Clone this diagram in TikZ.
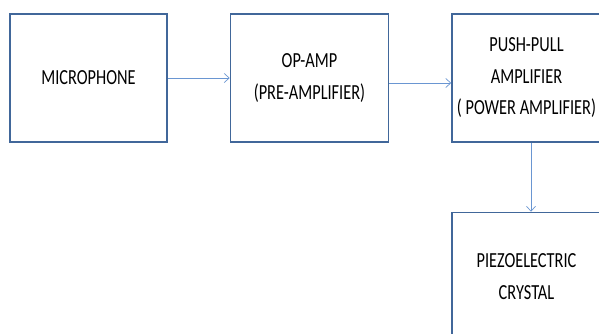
\documentclass[tikz,border=0pt]{standalone}
\usepackage{fontspec}
\setmainfont{Carlito}[FakeStretch=0.76]
\usepackage{xcolor}
\usetikzlibrary{arrows.meta, positioning}
\definecolor{boxblue}{HTML}{41679A}
\definecolor{lineblue}{HTML}{6A96D2}
\tikzset{
    diagram/.style={font=\fontsize{21.5}{31.5}\selectfont},
    diagram box/.style={draw=boxblue, line width=1.5pt, align=center,
        minimum width=157pt, minimum height=128pt, inner sep=0pt},
    diagram arrow/.style={-{Straight Barb[length=5pt, width=9pt]}, draw=lineblue, line width=0.7pt},
}
\begin{document}
\begin{tikzpicture}[diagram, x=1pt, y=-1pt, node distance=62pt and 62pt]
    \useasboundingbox (0,0) rectangle (599,333);
    \clip (0,0) rectangle (599,333);

    % Nodes
    \node[diagram box] (mic) at (88.5,78) {MICROPHONE};
    \node[diagram box, minimum width=158pt, right=of mic] (opamp) {OP-AMP\\(PRE-AMPLIFIER)};
    \node[diagram box, minimum width=149pt, right=of opamp] (pushpull) {PUSH-PULL\\AMPLIFIER\\( POWER AMPLIFIER)};
    \node[diagram box, minimum width=149pt, below=69pt of pushpull] (crystal) {PIEZOELECTRIC\\CRYSTAL};

    % Arrows
    \draw[diagram arrow] (mic) -- (opamp);
    \draw[diagram arrow] ([yshift=-5pt]opamp.east) -- ([yshift=-5pt]pushpull.west);
    \draw[diagram arrow] ([xshift=4.5pt]pushpull.south) -- ([xshift=4.5pt]crystal.north);

\end{tikzpicture}
\end{document}
